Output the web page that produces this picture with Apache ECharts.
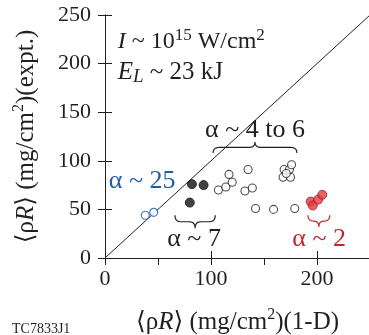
<!DOCTYPE html>
<html><head><meta charset="utf-8">
<script src="https://cdn.jsdelivr.net/npm/echarts@6/dist/echarts.min.js"></script>
<style>html,body{margin:0;padding:0;background:#fff}#c{width:369px;height:335px}</style>
</head><body><div id="c"></div>
<script>
// ---- data (mg/cm^2) ----
const alpha25 = [[38,44],[46,47]];
const alpha7 = [[82,76],[93,75],[80,57]];
const alpha46 = [[107,70],[114,73],[120,78],[117,86],[135,91],[132,69],[139,72],
                 [142,51],[159,50],[179,51],[169,91],[174,91],[176,96],[168,83],[175,83],[171,87]];
const alpha2 = [[194,58],[196,54],[201,60],[205,65]];
const diagonal = [[0,0],[250,250]];
const xLabels = [0,100,200];
const yLabels = [0,50,100,150,200,250];
// annotation texts: [x, y, text, colour]
const annoTexts = [
  [35, 79, 'α ~ 25', '#1f5ca8'],
  [141.5, 132, 'α ~ 4 to 6', '#231f20'],
  [84, 19, 'α ~ 7', '#231f20'],
  [202, 19, 'α ~ 2', '#c0272d']
];
// braces: [x1, x2, yEnds, yTip, colour]
const braces = [
  [102, 181, 108, 119.5, '#231f20'],
  [66, 104, 44, 30.6, '#231f20'],
  [191.5, 212, 44, 32, '#c0272d']
];

const F = "'Liberation Serif', 'DejaVu Serif', serif";
const INK = '#231f20';
const chart = echarts.init(document.getElementById('c'));

const axisCommon = {
  min: 0, max: 250,
  axisLine: {show: true, lineStyle: {color: INK, width: 1}},
  axisTick: {show: true, inside: true, length: 7, lineStyle: {color: INK}},
  splitLine: {show: false}
};
const labelStyle = {color: INK, fontFamily: F, fontSize: 22};
const rich = {
  i: {fontStyle: 'italic', fontFamily: F, fontSize: 25, color: INK},
  sup: {fontSize: 16, fontFamily: F, color: INK, verticalAlign: 'top', lineHeight: 16}
};

chart.setOption({
  animation: false,
  grid: {left: 105, top: 15, width: 265, height: 243, containLabel: false, outerBoundsMode: 'none'},
  xAxis: [
    Object.assign({}, axisCommon, {
      type: 'value', position: 'bottom', interval: 100,
      axisLabel: Object.assign({}, labelStyle, {margin: 10, showMaxLabel: false,
        formatter: v => xLabels.includes(v) ? String(v) : ''}),
      name: '⟨ρ{i|R}⟩ (mg/cm{sup|2})(1-D)', nameLocation: 'middle', nameGap: 49,
      nameTextStyle: {fontFamily: F, fontSize: 25, color: INK, lineHeight: 30, rich: rich}
    }),
    Object.assign({}, axisCommon, {
      type: 'value', position: 'top', interval: 50, axisLabel: {show: false}
    })
  ],
  yAxis: [
    Object.assign({}, axisCommon, {
      type: 'value', position: 'left', interval: 50,
      axisLabel: Object.assign({}, labelStyle, {margin: 14,
        formatter: v => yLabels.includes(v) ? String(v) : ''}),
      name: '⟨ρ{i|R}⟩ (mg/cm{sup|2})(expt.)', nameLocation: 'middle', nameGap: 64, nameRotate: 90,
      nameTextStyle: {fontFamily: F, fontSize: 25, color: INK, lineHeight: 30, rich: rich}
    }),
    Object.assign({}, axisCommon, {
      type: 'value', position: 'right', interval: 50, axisLabel: {show: false}
    })
  ],
  series: [
    {type: 'line', data: diagonal, symbol: 'none', lineStyle: {color: INK, width: 1}, z: 1, silent: true},
    {type: 'scatter', data: alpha25, symbol: 'circle', symbolSize: 8,
     itemStyle: {color: '#fff', borderColor: '#1f5ca8', borderWidth: 1.2}, z: 3},
    {type: 'scatter', data: alpha7, symbol: 'circle', symbolSize: 9,
     itemStyle: {color: '#111', borderColor: '#111', borderWidth: 1}, z: 3},
    {type: 'scatter', data: alpha46, symbol: 'circle', symbolSize: 8,
     itemStyle: {color: '#fff', borderColor: INK, borderWidth: 1.1}, z: 3},
    {type: 'scatter', data: alpha2, symbol: 'circle', symbolSize: 9,
     itemStyle: {color: '#e33b3f', borderColor: '#a01d25', borderWidth: 1}, z: 3}
  ]
});

function px(p) { return chart.convertToPixel({gridIndex: 0}, p); }
function quad(pts, a, c, b) {
  for (let t = 0.1; t <= 1.0001; t += 0.1) {
    const u = 1 - t;
    pts.push([u*u*a[0] + 2*u*t*c[0] + t*t*b[0], u*u*a[1] + 2*u*t*c[1] + t*t*b[1]]);
  }
}
const graphics = [];
annoTexts.forEach(a => {
  const p = px([a[0], a[1]]);
  graphics.push({type: 'text', x: p[0], y: p[1], z: 10,
    style: {text: a[2], fill: a[3], font: '26px ' + F, align: 'center', verticalAlign: 'middle'}});
});
braces.forEach(b => {
  const p1 = px([b[0], b[2]]), p2 = px([b[1], b[2]]), pt = px([(b[0]+b[1])/2, b[3]]);
  const x1 = p1[0], x2 = p2[0], ye = p1[1], yt = pt[1], xm = pt[0];
  const ym = (ye + yt) / 2, r = Math.min(6, (x2 - x1) / 4);
  const pts = [[x1, ye]];
  quad(pts, [x1, ye], [x1, ym], [x1 + r, ym]);
  pts.push([xm - r, ym]);
  quad(pts, [xm - r, ym], [xm, ym], [xm, yt]);
  quad(pts, [xm, yt], [xm, ym], [xm + r, ym]);
  pts.push([x2 - r, ym]);
  quad(pts, [x2 - r, ym], [x2, ym], [x2, ye]);
  graphics.push({type: 'polyline', z: 10, shape: {points: pts},
    style: {fill: null, stroke: b[4], lineWidth: 1.2}});
});
// condition texts
const pI = px([12, 223]), pE = px([12, 191]);
graphics.push({type: 'text', x: pI[0], y: pI[1], z: 10, style: {
  text: '{i|I} ~ 10{sup|15} W/cm{sup|2}', fill: INK, font: '24px ' + F,
  align: 'left', verticalAlign: 'middle', lineHeight: 28,
  rich: {i: {fontStyle: 'italic', fontSize: 24, fontFamily: F, fill: INK},
         sup: {fontSize: 17, fontFamily: F, fill: INK, verticalAlign: 'top', lineHeight: 16}}}});
graphics.push({type: 'text', x: pE[0], y: pE[1], z: 10, style: {
  text: '{i|E}{sub|L} ~ 23 kJ', fill: INK, font: '25px ' + F,
  align: 'left', verticalAlign: 'middle', lineHeight: 28,
  rich: {i: {fontStyle: 'italic', fontSize: 25, fontFamily: F, fill: INK},
         sub: {fontStyle: 'italic', fontSize: 19, fontFamily: F, fill: INK, verticalAlign: 'bottom', lineHeight: 8}}}});
graphics.push({type: 'text', x: 12, y: 329, z: 10, style: {
  text: 'TC7833J1', fill: INK, font: '14px ' + F, verticalAlign: 'middle'}});
chart.setOption({graphic: graphics});
</script></body></html>
